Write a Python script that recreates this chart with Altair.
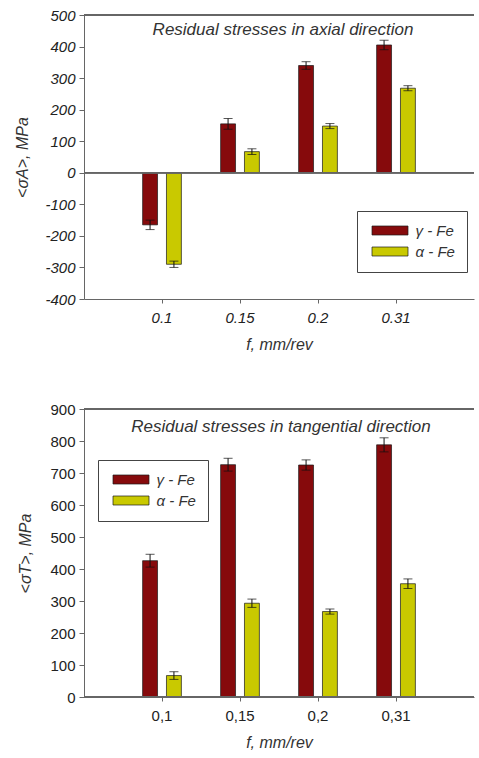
import altair as alt
import pandas as pd

# ---- data ----
feeds_axial = ["0.1", "0.15", "0.2", "0.31"]
feeds_tang = ["0,1", "0,15", "0,2", "0,31"]
phases = ["γ - Fe", "α - Fe"]

axial_gamma = [-165, 155, 340, 405]
axial_gamma_err = [15, 17, 12, 15]
axial_alpha = [-290, 67, 148, 268]
axial_alpha_err = [10, 9, 8, 8]

tang_gamma = [426, 726, 725, 788]
tang_gamma_err = [20, 20, 16, 22]
tang_alpha = [67, 293, 267, 354]
tang_alpha_err = [12, 13, 8, 15]

colors = ["#860a0c", "#c9c900"]
FONT = "Liberation Sans"


def make_df(feeds, g, ge, a, ae):
    rows = []
    for i, f in enumerate(feeds):
        rows.append({"feed": f, "phase": phases[0], "value": g[i], "err": ge[i]})
        rows.append({"feed": f, "phase": phases[1], "value": a[i], "err": ae[i]})
    return pd.DataFrame(rows)


def panel(df, feeds, ydom, ytitle, title, italic_labels, legend_xy, title_xy, ytitle_pad):
    style = "italic" if italic_labels else "normal"
    base = alt.Chart(df).transform_calculate(
        lo="datum.value - datum.err", hi="datum.value + datum.err"
    )
    x = alt.X(
        "feed:N",
        sort=feeds,
        scale=alt.Scale(paddingInner=0.503, paddingOuter=0.7515),
        axis=alt.Axis(
            title="f, mm/rev", labelAngle=0, labelFontStyle=style, labelFontSize=15,
            labelPadding=7, titlePadding=11, tickSize=4, labelOverlap=False,
        ),
    )
    xo = alt.XOffset("phase:N", sort=phases, scale=alt.Scale(paddingInner=0.375, paddingOuter=0))
    yscale = alt.Scale(domain=ydom, nice=False, zero=True)
    yaxis = alt.Axis(
        title=ytitle, values=list(range(ydom[0], ydom[1] + 1, 100)),
        labelFontStyle=style, labelFontSize=15, labelPadding=4, tickSize=5,
        titlePadding=ytitle_pad, labelExpr="'' + datum.value", labelOverlap=False,
    )
    bars = base.mark_bar(stroke="#1a1a1a", strokeWidth=0.7).encode(
        x=x,
        xOffset=xo,
        y=alt.Y("value:Q", scale=yscale, axis=yaxis),
        color=alt.Color(
            "phase:N",
            sort=phases,
            scale=alt.Scale(domain=phases, range=colors),
            legend=alt.Legend(
                orient="none", legendX=legend_xy[0], legendY=legend_xy[1], title=None,
                symbolType="M-4,-1H4V1H-4Z", symbolSize=81, symbolOffset=13.5,
                symbolStrokeColor="#1a1a1a", symbolStrokeWidth=0.7,
                labelFont=FONT, labelFontStyle="italic", labelFontSize=15,
                labelColor="#333", labelOffset=18,
                strokeColor="#444", fillColor="white", padding=12, rowPadding=5,
            ),
        ),
    )
    rule = base.mark_rule(color="#111", strokeWidth=1).encode(
        x=x, xOffset=xo, y=alt.Y("lo:Q", scale=yscale, axis=yaxis), y2="hi:Q"
    )
    cap_hi = base.mark_tick(color="#111", thickness=1, size=9).encode(
        x=x, xOffset=xo, y=alt.Y("hi:Q", scale=yscale, axis=yaxis)
    )
    cap_lo = base.mark_tick(color="#111", thickness=1, size=9).encode(
        x=x, xOffset=xo, y=alt.Y("lo:Q", scale=yscale, axis=yaxis)
    )
    top_line = alt.Chart(df).mark_rule(color="#666", strokeWidth=1).encode(
        y=alt.YDatum(ydom[1], scale=yscale, axis=yaxis)
    )
    zero_line = alt.Chart(df).mark_rule(color="#666", strokeWidth=1).encode(
        y=alt.YDatum(0, scale=yscale, axis=yaxis)
    )
    ttl = alt.Chart(pd.DataFrame({"t": [title]})).mark_text(
        font=FONT, fontSize=17, fontStyle="italic", color="#333", align="center", baseline="middle"
    ).encode(text="t:N", x=alt.value(title_xy[0]), y=alt.value(title_xy[1]))
    return alt.layer(bars, rule, cap_hi, cap_lo, top_line, zero_line, ttl)


df_ax = make_df(feeds_axial, axial_gamma, axial_gamma_err, axial_alpha, axial_alpha_err)
df_tg = make_df(feeds_tang, tang_gamma, tang_gamma_err, tang_alpha, tang_alpha_err)

top = panel(
    df_ax, feeds_axial, [-400, 500], "<σA>, MPa", "Residual stresses in axial direction",
    True, (273, 196), (199, 15), 14,
).properties(width=390, height=284)

bottom = panel(
    df_tg, feeds_tang, [0, 900], "<σT>, MPa", "Residual stresses in tangential direction",
    False, (14, 51), (197, 18), 16,
).properties(width=390, height=288)

chart = (
    alt.vconcat(top, bottom, spacing=50)
    .resolve_scale(color="independent")
    .resolve_legend(color="independent")
    .properties(padding={"left": 14, "top": 8, "right": 0, "bottom": 0}, background="white")
    .configure_view(stroke=None)
    .configure_axis(
        grid=False, domainColor="#666", tickColor="#666", labelColor="#222",
        titleColor="#333", labelFont=FONT, titleFont=FONT, titleFontSize=16,
        titleFontStyle="italic", titleFontWeight="normal",
    )
)

chart.save("out.html", embed_options={"renderer": "svg", "actions": False})
